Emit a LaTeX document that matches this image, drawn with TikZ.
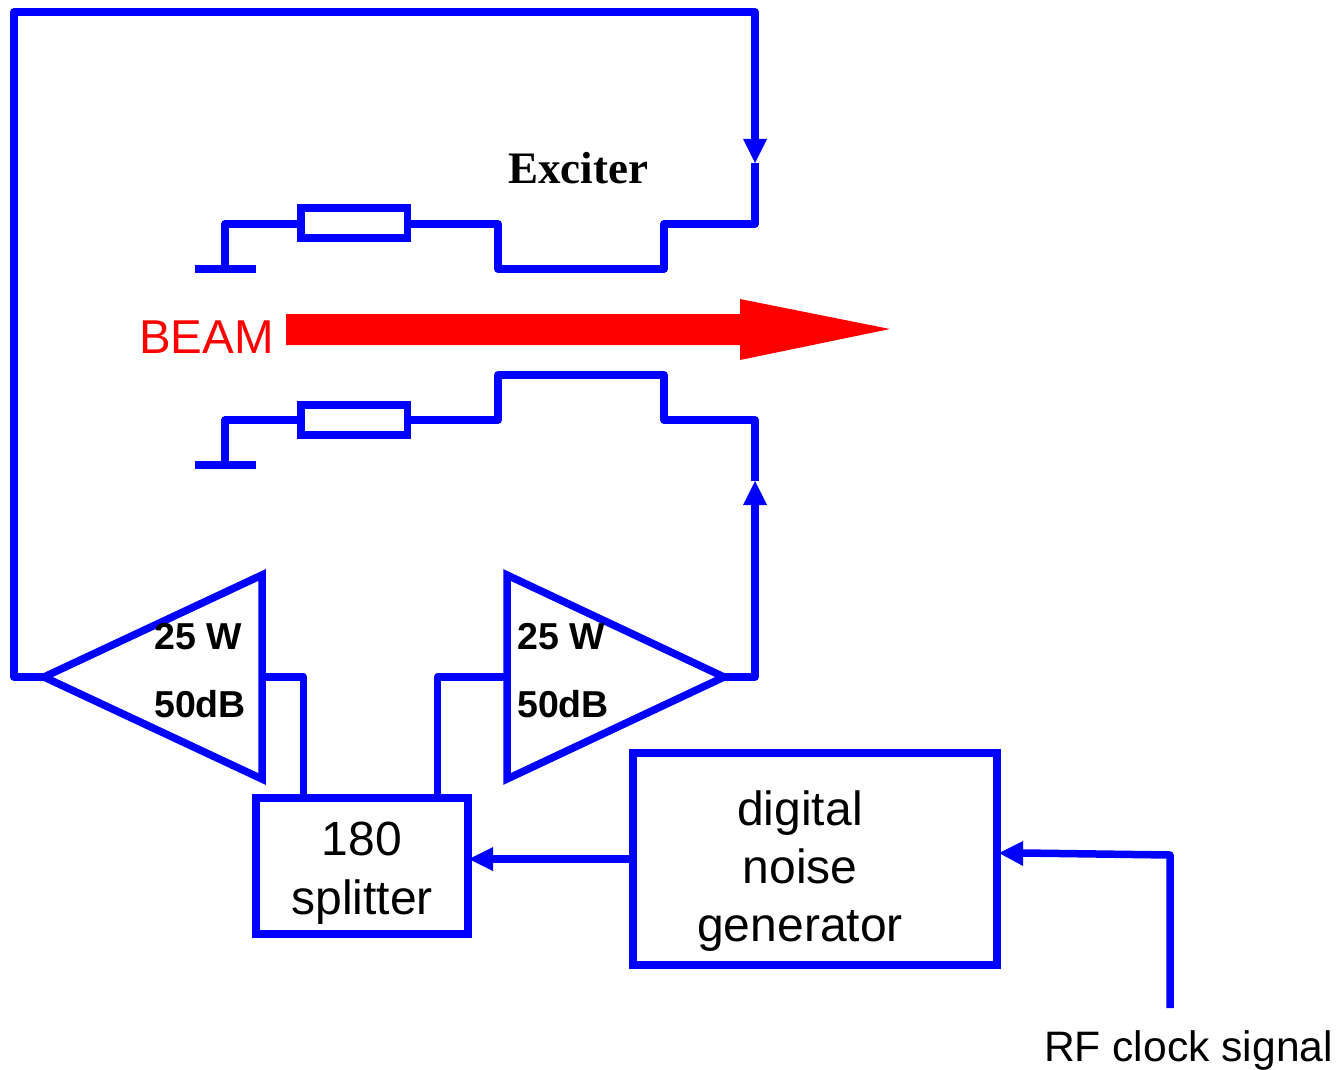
\documentclass[tikz,border=0pt]{standalone}
\usepackage{fontspec}
\setmainfont{Liberation Sans}
\newfontfamily\serifbold{Liberation Serif}[BoldFont={Liberation Serif Bold}]
\definecolor{wireblue}{RGB}{0,0,255}
\tikzset{
  x=1pt,y=-1pt,
  wire/.style={draw=wireblue,line width=7.5pt,line join=round,line cap=butt},
  plainwire/.style={draw=wireblue,line width=7.5pt,line join=miter},
  wirehead/.style={fill=wireblue,draw=none},
  boxnode/.style={draw=wireblue,line width=7.5pt,inner sep=0pt,align=center},
  bigtext/.style={font=\fontsize{48}{58}\selectfont,align=center,inner sep=0pt},
  ampnote/.style={font=\fontsize{37.5}{40}\selectfont\bfseries,inner sep=0pt,anchor=west},
}
\begin{document}
\begin{tikzpicture}
\useasboundingbox (0,0) rectangle (1338,1070);
% exciter top
\draw[wire] (195,269) -- (256,269);
\draw[wire] (225,269) -- (225,224) -- (301,224);
\draw[plainwire] (301,208) rectangle (407.5,238);
\draw[wire] (407.5,224) -- (498,224) -- (498,269) -- (664,269) -- (664,224) -- (755,224) -- (755,163);
% exciter bottom
\draw[wire] (195,465) -- (256,465);
\draw[wire] (225,465) -- (225,420) -- (301,420);
\draw[plainwire] (301,405) rectangle (407.5,435);
\draw[wire] (407.5,420) -- (498,420) -- (498,375) -- (664,375) -- (664,420) -- (755,420) -- (755,481);
% amps
\coordinate (ampL) at (44,677);
\coordinate (ampR) at (724,677);
\draw[plainwire] (ampL) -- (262,575) -- (262,779) -- cycle;
\draw[plainwire] (ampR) -- (507,575) -- (507,779) -- cycle;
% feedback
\draw[wire] (ampL) -- (14,677) -- (14,12) -- (755,12) -- (755,140);
\fill[wirehead] (743,139) -- (767,139) -- (755,163) -- cycle;
\draw[wire] (ampR) -- (755,677) -- (755,505);
\fill[wirehead] (743,505) -- (767,505) -- (755,481) -- cycle;
% boxes
\node[boxnode,minimum width=212pt,minimum height=136pt] (split) at (362,866) {};
\node[bigtext] at (362,873.5) {180\\[1pt]splitter};
\node[boxnode,minimum width=364pt,minimum height=212pt] (gen) at (815,859) {};
\node[bigtext] at (800,871) {digital\\noise\\generator};
\draw[wire] (262,677) -- (303.5,677) -- (303.5,797);
\draw[wire] (507,677) -- (437.7,677) -- (437.7,797);
\coordinate (h1) at (493,859);
\draw[plainwire] (gen.west) -- (h1);
\fill[wirehead] (493,847) -- (493,871) -- (469,859) -- cycle;
\coordinate (clk) at (1170,1008);
\draw[wire] (clk) -- (1170,855) -- (1023,853);
\fill[wirehead] (1023,841) -- (1023,866) -- (999,853) -- cycle;
% beam
\fill[red] (286,314) -- (740,314) -- (740,299) -- (890,329) -- (740,360) -- (740,345) -- (286,345) -- cycle;
\node[font=\fontsize{47.5}{50}\selectfont,text=red,inner sep=0pt] at (206.5,337) {BEAM};
\node[font=\fontsize{45}{46}\selectfont\serifbold\bfseries,inner sep=0pt] at (578,168) {Exciter};
\node[ampnote] at (154,637) {25 W};
\node[ampnote] at (154,704) {50dB};
\node[ampnote] at (517,637) {25 W};
\node[ampnote] at (517,704) {50dB};
\node[font=\fontsize{42.6}{46}\selectfont,inner sep=0pt] at (1188.5,1050) {RF clock signal};
\end{tikzpicture}
\end{document}
